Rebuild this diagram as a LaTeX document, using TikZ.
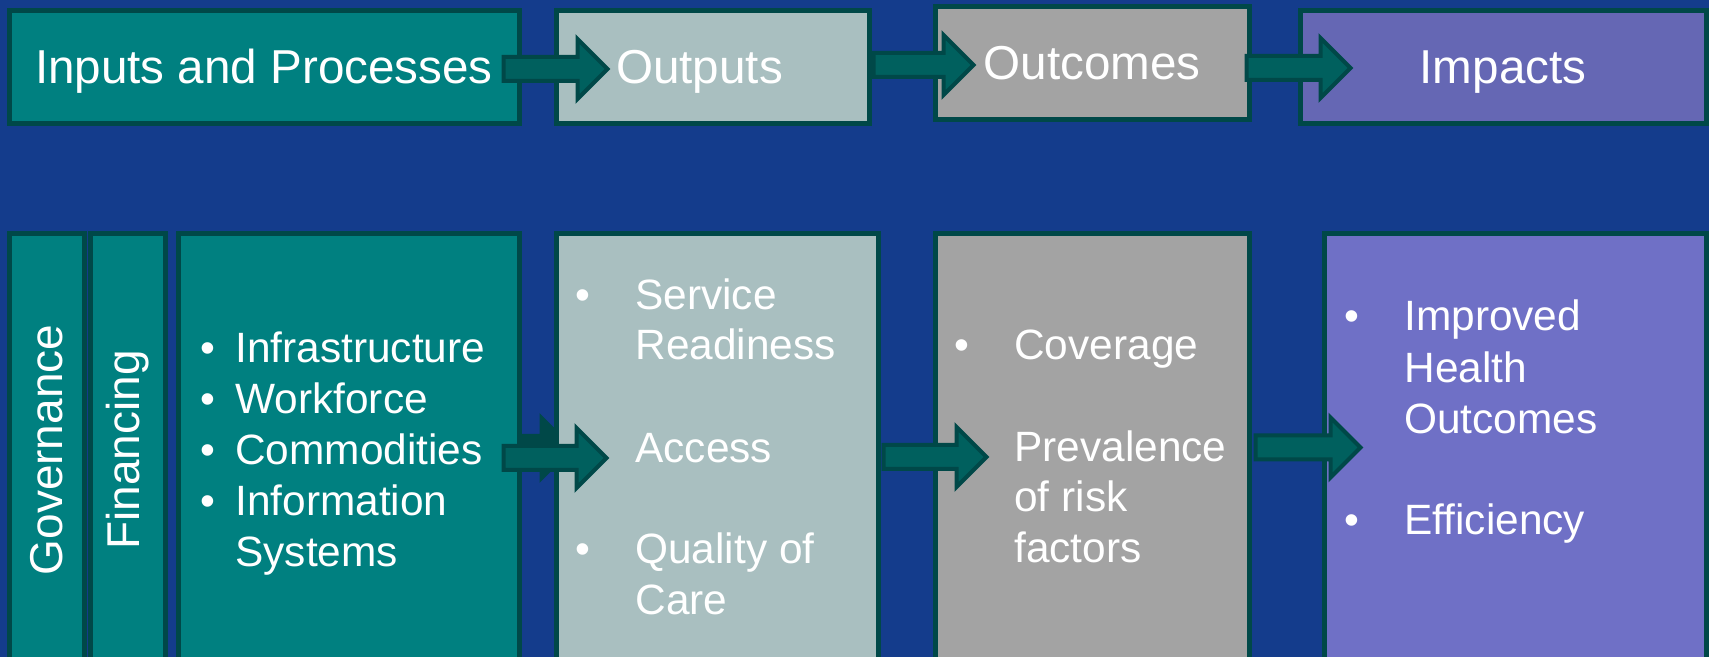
\documentclass[tikz,border=0pt]{standalone}
\usepackage{fontspec}
\setmainfont{Liberation Sans}
\usetikzlibrary{calc}

\definecolor{bgblue}{RGB}{20,60,140}
\definecolor{tealbox}{RGB}{0,128,128}
\definecolor{outbox}{RGB}{169,191,192}
\definecolor{otcbox}{RGB}{163,163,163}
\definecolor{imptop}{RGB}{101,103,180}
\definecolor{impbox}{RGB}{111,112,198}
\definecolor{edgecol}{RGB}{0,72,72}
\definecolor{arrowcol}{RGB}{0,96,94}

\pgfdeclarelayer{back}
\pgfsetlayers{back,main}

\tikzset{
  box/.style={draw=edgecol, line width=2.5pt, text=white, inner sep=0pt},
  topbox/.style={box, minimum height=56.5pt, font=\fontsize{23.8}{28}\selectfont, text height=18pt, text depth=2pt},
  lowbox/.style={box, minimum height=216pt},
  sidebox/.style={box, fill=tealbox, rotate=90, minimum width=216pt, minimum height=37.5pt, font=\fontsize{23}{28}\selectfont},
  listtxt/.style={text=white, inner sep=0pt, anchor=base west, align=left, font=\fontsize{21.2}{25.5}\selectfont},
  barrow/.style={draw=edgecol, fill=arrowcol, line width=2pt, miter limit=10},
}

\newcommand{\itm}[2][17.5pt]{\makebox[#1][l]{\textbullet}#2}
% block arrow from the first point to the tip at the second, kept level
\newcommand{\blockarrow}[3][]{%
  \path[barrow,#1] let \p1=#2, \p2=#3 in
    (\x1,\y1+6pt) -- (\x2-15pt,\y1+6pt) -- (\x2-15pt,\y1+15pt) -- (\x2,\y1)
    -- (\x2-15pt,\y1-15pt) -- (\x2-15pt,\y1-6pt) -- (\x1,\y1-6pt) -- cycle;}

\begin{document}
\begin{tikzpicture}[x=0.5pt,y=-0.5pt]
\useasboundingbox (0,0) rectangle (1709,657);
\clip (0,0) rectangle (1709,657);
\begin{pgfonlayer}{back}
\fill[bgblue] (0,0) rectangle (1709,657);
\end{pgfonlayer}

% top row
\node[topbox, fill=tealbox, minimum width=255pt] (inp) at (264,67.5) {Inputs and Processes};
\node[topbox, fill=outbox, minimum width=156.5pt] (out) at (712.5,67.5) {\hspace*{-13pt}Outputs};
\node[topbox, fill=otcbox, minimum width=157pt] (otc) at (1092,63.5) {Outcomes};
\node[topbox, fill=imptop, minimum width=203pt] (imp) at (1503,67.5) {Impacts};

\blockarrow{($(inp.east)+(-18,1.5)$)}{($(out.west)+(54,1.5)$)}
\blockarrow{($(out.east)+(2,-2.5)$)}{($(otc.west)+(41,1.5)$)}
\blockarrow{($(otc.east)+(-5,4.5)$)}{($(imp.west)+(53,0.5)$)}

% bottom row
\node[sidebox] (gov) at (46.5,450) {Governance};
\node[sidebox] (fin) at (127.5,450) {Financing};
\node[lowbox, fill=tealbox, minimum width=170.5pt] (inb) at (348.5,450) {};
\node[lowbox, fill=outbox, minimum width=161pt] (outb) at (717,450) {};
\node[lowbox, fill=otcbox, minimum width=157pt] (otcb) at (1092,450) {};
\node[lowbox, fill=impbox, minimum width=191pt] (impb) at (1515,450) {};

% lists sit on the baseline of their last line
\node[listtxt] (intxt) at (200,567) {\itm{Infrastructure}\\ \itm{Workforce}\\ \itm{Commodities}\\ \itm{Information}\\ \hspace*{17.5pt}Systems};
\node[listtxt] (outtxt) at (575,615) {\itm[30pt]{Service}\\ \hspace*{30pt}Readiness\\[25.5pt] \hspace*{30pt}Access\\[25.5pt] \itm[30pt]{Quality of}\\ \hspace*{30pt}Care};
\node[listtxt] (otctxt) at (954,563) {\itm[30pt]{Coverage}\\[25.5pt] \hspace*{30pt}Prevalence\\ \hspace*{30pt}of risk\\ \hspace*{30pt}factors};
\node[listtxt] (imptxt) at (1344,535) {\itm[30pt]{Improved}\\ \hspace*{30pt}Health\\ \hspace*{30pt}Outcomes\\[25.5pt] \itm[30pt]{Efficiency}};

\begin{pgfonlayer}{back}
\blockarrow[fill=edgecol]{($(inb.east)+(-53,-2)$)}{($(outb.west)+(18,-2)$)}
\end{pgfonlayer}
\blockarrow{($(inb.east)+(-18,8)$)}{($(outb.west)+(53,8)$)}
\blockarrow{($(outb.east)+(3,7)$)}{($(otcb.west)+(54,7)$)}
\blockarrow{($(otcb.east)+(4,-2.5)$)}{($(impb.west)+(39,-2.5)$)}
\end{tikzpicture}
\end{document}
